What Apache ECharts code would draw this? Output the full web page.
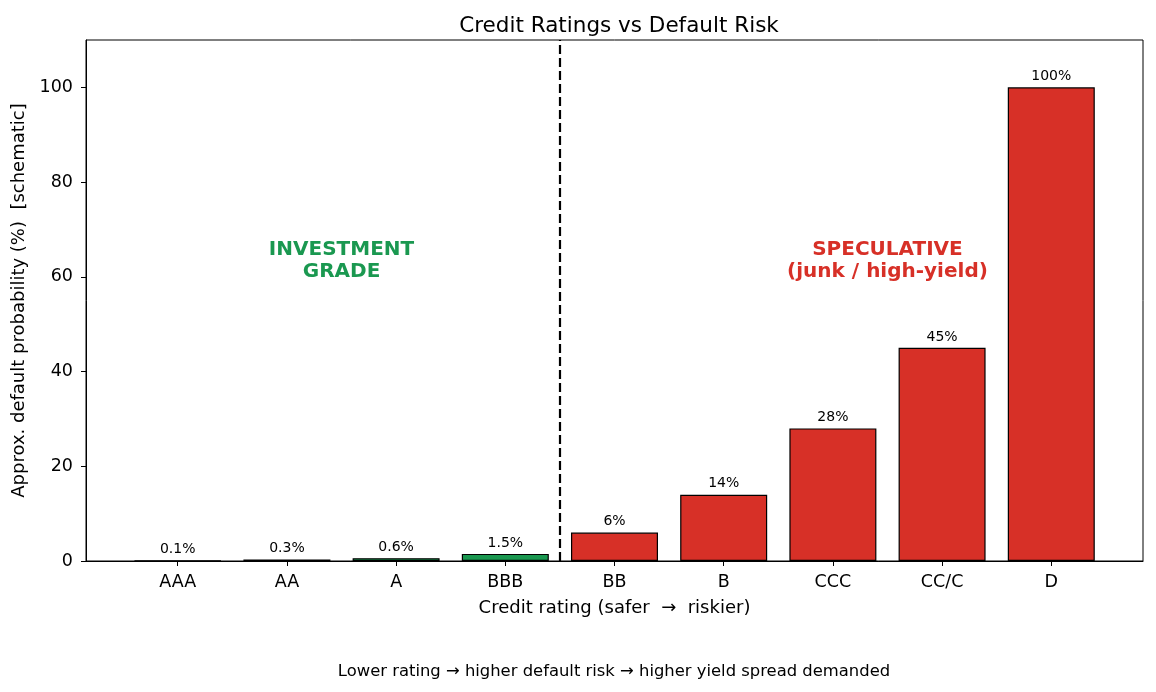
<!DOCTYPE html>
<html>
<head>
<meta charset="utf-8">
<script src="https://cdn.jsdelivr.net/npm/echarts@6/dist/echarts.min.js"></script>
<style>
  html, body { margin: 0; padding: 0; background: #fff; }
  #container { width: 1156px; height: 692px; }
</style>
</head>
<body>
<div id="container"></div>
<script>
// 评级与违约概率
var ratings = ['AAA', 'AA', 'A', 'BBB', 'BB', 'B', 'CCC', 'CC/C', 'D'];
var probs = [0.1, 0.3, 0.6, 1.5, 6, 14, 28, 45, 100];
var investmentCount = 4; // 前4个是投资级
var yTicks = [0, 20, 40, 60, 80, 100];

var green = '#1a9850';
var red = '#d73027';
var font = 'DejaVu Sans';

var dom = document.getElementById('container');
var myChart = echarts.init(dom);

var barData = [];
for (var i = 0; i < ratings.length; i++) {
    barData.push({
        value: [i, probs[i]],
        itemStyle: { color: i < investmentCount ? green : red }
    });
}
var xTicks = ratings.map(function (r, i) { return i; });

var option = {
    backgroundColor: '#fff',
    animation: false,
    textStyle: { fontFamily: font },
    title: {
        text: 'Credit Ratings vs Default Risk',
        left: 614,
        top: 10,
        textAlign: 'center',
        textStyle: { fontFamily: font, fontSize: 21.5, fontWeight: 'normal', color: '#000' }
    },
    graphic: [{
        type: 'text',
        x: 614,
        y: 672,
        style: {
            text: 'Lower rating \u2192 higher default risk \u2192 higher yield spread demanded',
            font: '16.4px "DejaVu Sans"',
            fill: '#000',
            textAlign: 'center',
            textVerticalAlign: 'middle'
        }
    }],
    grid: {
        left: 86, right: 13, top: 40, bottom: 131,
        show: true, borderColor: '#000', borderWidth: 1, backgroundColor: 'transparent'
    },
    xAxis: {
        type: 'value',
        min: -0.84,
        max: 8.84,
        name: 'Credit rating (safer  \u2192  riskier)',
        nameLocation: 'middle',
        nameGap: 38,
        nameTextStyle: { fontFamily: font, fontSize: 18, color: '#000' },
        axisLine: { show: true, onZero: false, lineStyle: { color: '#000', width: 1 } },
        axisTick: { show: true, customValues: xTicks, length: 5, lineStyle: { color: '#000' } },
        axisLabel: {
            customValues: xTicks,
            formatter: function (v) { return ratings[Math.round(v)]; },
            fontFamily: font, fontSize: 17.5, color: '#000', margin: 12
        },
        splitLine: { show: false }
    },
    yAxis: {
        type: 'value',
        min: 0,
        max: 110,
        name: 'Approx. default probability (%)  [schematic]',
        nameLocation: 'middle',
        nameGap: 56,
        nameTextStyle: { fontFamily: font, fontSize: 18, color: '#000' },
        axisLine: { show: true, onZero: false, lineStyle: { color: '#000', width: 1 } },
        axisTick: { show: true, customValues: yTicks, length: 5, lineStyle: { color: '#000' } },
        axisLabel: {
            customValues: yTicks,
            fontFamily: font, fontSize: 17.5, color: '#000', margin: 13
        },
        splitLine: { show: false }
    },
    series: [
        {
            type: 'bar',
            data: barData,
            barWidth: 87,
            itemStyle: { borderColor: '#000', borderWidth: 1.2 },
            label: {
                show: true,
                position: 'top',
                distance: 4,
                fontFamily: font,
                fontSize: 14,
                color: '#000',
                formatter: function (p) { return p.value[1] + '%'; }
            },
            markLine: {
                silent: true,
                symbol: 'none',
                label: { show: false },
                lineStyle: { color: '#000', type: [9, 4], width: 2.2 },
                data: [{ xAxis: 3.5 }]
            }
        },
        {
            type: 'scatter',
            symbolSize: 1,
            itemStyle: { color: 'transparent', opacity: 1 },
            data: [
                { value: [1.5, 63.4], label: { color: green, formatter: 'INVESTMENT\nGRADE' } },
                { value: [6.5, 63.4], label: { color: red, formatter: 'SPECULATIVE\n(junk / high-yield)' } }
            ],
            label: {
                show: true,
                position: 'inside',
                fontFamily: font,
                fontSize: 20,
                fontWeight: 'bold',
                lineHeight: 22,
                align: 'center',
                textBorderWidth: 0
            }
        }
    ]
};

if (option && typeof option === 'object') {
    myChart.setOption(option, true);
}
</script>
</body>
</html>
